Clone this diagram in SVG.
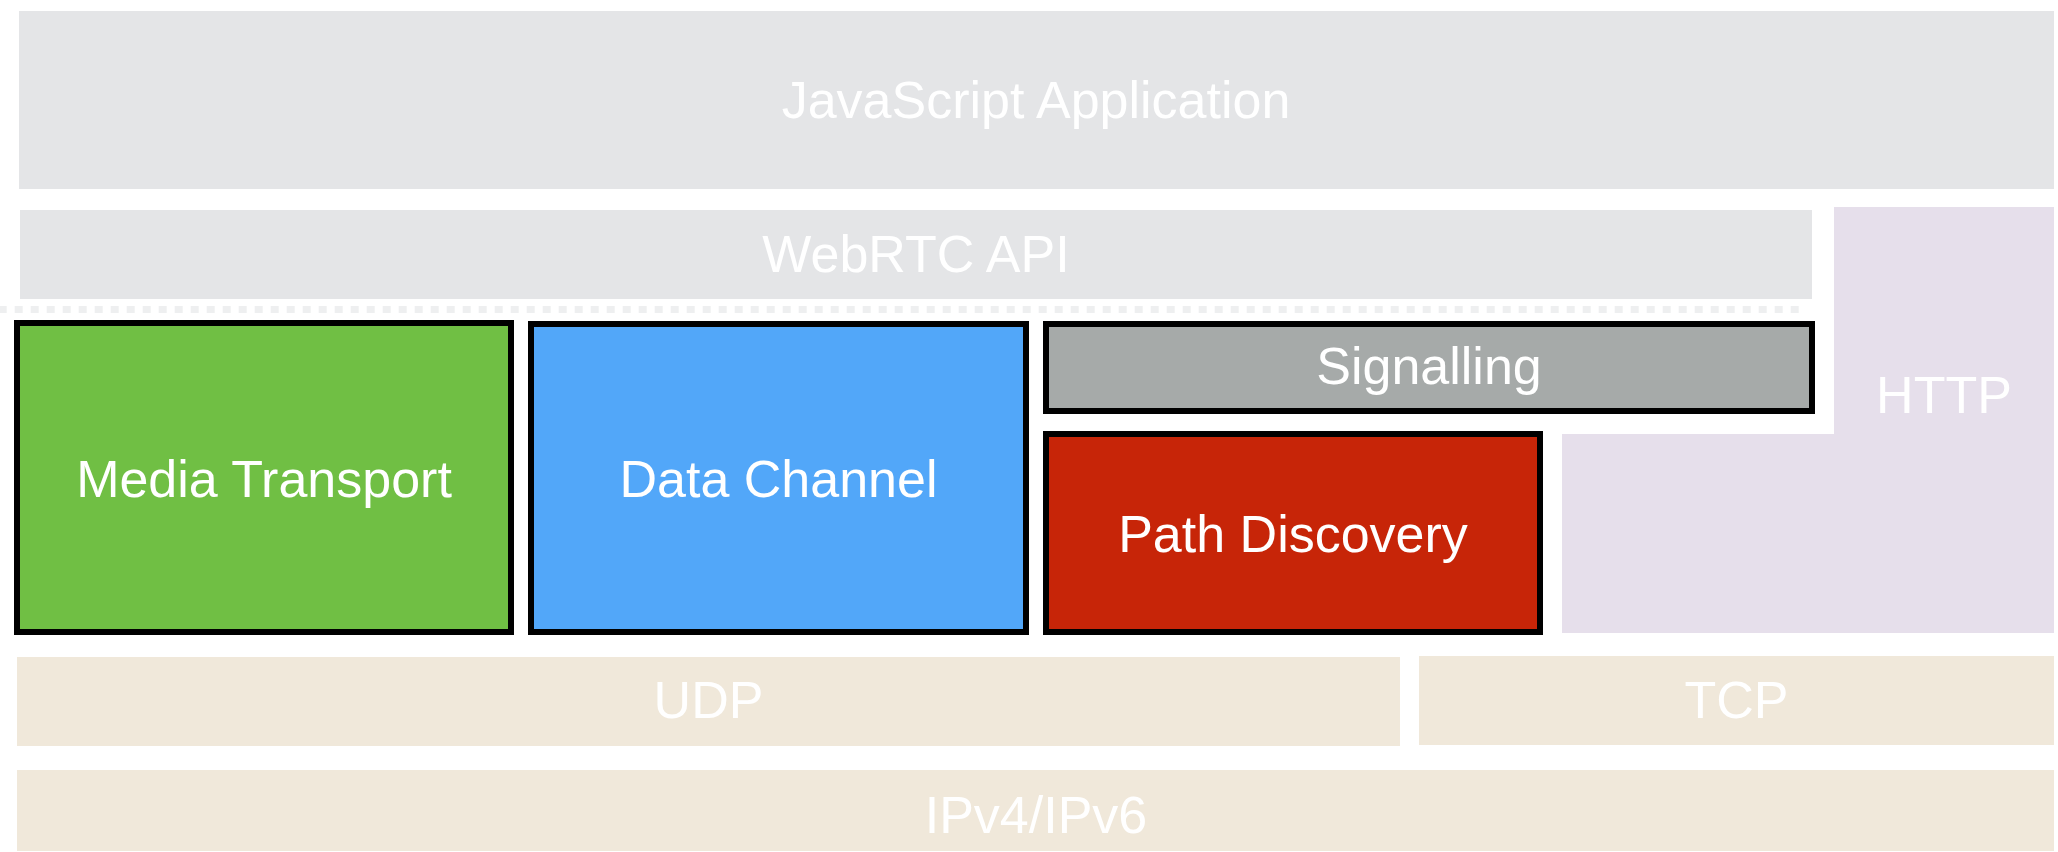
<svg xmlns="http://www.w3.org/2000/svg" width="2058" height="852" viewBox="0 0 2058 852">
  <style>
    .lbl { font-family: "Liberation Sans", Arial, Helvetica, sans-serif; font-size: 52px; fill: #ffffff; text-anchor: middle; }
    .api { fill: #e4e5e7; }
    .http { fill: #e6dfeb; }
    .net { fill: #f0e8da; }
    .box { stroke: #000000; stroke-width: 6; }
  </style>
  <rect width="2058" height="852" fill="#ffffff"/>

  <!-- application and API layers -->
  <g id="javascript-application">
    <rect class="api" x="19" y="11" width="2035" height="178"/>
    <text class="lbl" x="1036" y="118">JavaScript Application</text>
  </g>
  <g id="webrtc-api">
    <rect class="api" x="20" y="210" width="1792" height="89"/>
    <text class="lbl" x="916" y="272">WebRTC API</text>
  </g>
  <g id="http">
    <polygon class="http" points="1834,207 2054,207 2054,633 1562,633 1562,434 1834,434"/>
    <text class="lbl" x="1944" y="413">HTTP</text>
  </g>

  <!-- API boundary -->
  <g id="connectors">
    <line x1="0" y1="309.5" x2="1802" y2="309.5" stroke="#eeeff0" stroke-width="7" stroke-dasharray="8 8" stroke-dashoffset="1.3"/>
  </g>

  <!-- WebRTC components -->
  <g id="media-transport">
    <rect class="box" x="17" y="323" width="494" height="309" fill="#70bf44"/>
    <text class="lbl" x="264" y="497">Media Transport</text>
  </g>
  <g id="data-channel">
    <rect class="box" x="531" y="324" width="495" height="308" fill="#52a7f9"/>
    <text class="lbl" x="778.5" y="497">Data Channel</text>
  </g>
  <g id="signalling">
    <rect class="box" x="1046" y="324" width="766" height="87" fill="#a6aaa9"/>
    <text class="lbl" x="1429" y="384">Signalling</text>
  </g>
  <g id="path-discovery">
    <rect class="box" x="1046" y="434" width="494" height="198" fill="#c72508"/>
    <text class="lbl" x="1293" y="552">Path Discovery</text>
  </g>

  <!-- transport and network layers -->
  <g id="udp">
    <rect class="net" x="17" y="657" width="1383" height="89"/>
    <text class="lbl" x="708.5" y="718">UDP</text>
  </g>
  <g id="tcp">
    <rect class="net" x="1419" y="656" width="635" height="89"/>
    <text class="lbl" x="1736.5" y="718">TCP</text>
  </g>
  <g id="ipv4-ipv6">
    <rect class="net" x="17" y="770" width="2037" height="81"/>
    <text class="lbl" x="1036" y="833">IPv4/IPv6</text>
  </g>
</svg>
